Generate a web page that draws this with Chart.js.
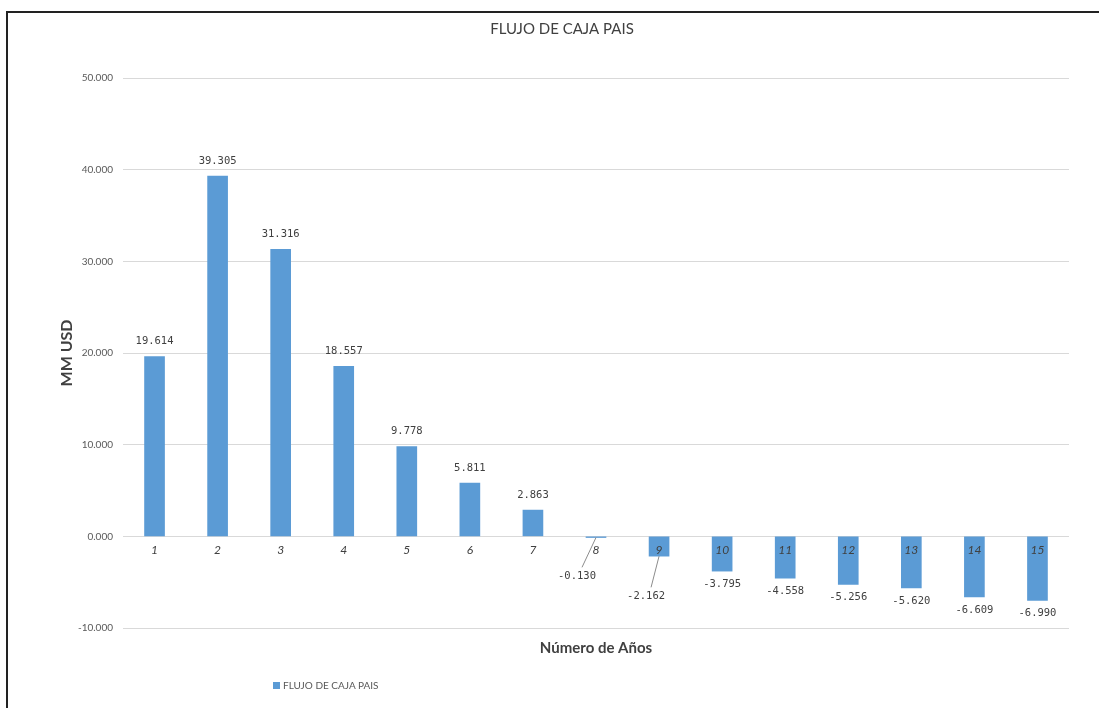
<!DOCTYPE html>
<html>
<head>
<meta charset="utf-8">
<script src="https://cdn.jsdelivr.net/npm/chart.js@4.4.0/dist/chart.umd.min.js"></script>
<style>
  html, body { margin:0; padding:0; background:#fff; overflow:hidden; }
  #wrap { position:relative; width:1099px; height:708px; overflow:hidden; }
  .edge { position:absolute; background:#222; pointer-events:none; }
  #topEdge { left:6px; top:11px; width:1093px; height:2px; }
  #leftEdge { left:6px; top:11px; width:2px; height:697px; }
  #legend { position:absolute; left:273px; top:679px; font:10px 'Liberation Sans Narrow', Lato, sans-serif; color:#595959; }
  #legend span.box { display:inline-block; width:7px; height:7px; background:#5B9BD5; margin-right:3px; }
</style>
</head>
<body>
<div id="wrap">
  <canvas id="flujo" width="1099" height="708"></canvas>
  <div class="edge" id="topEdge"></div>
  <div class="edge" id="leftEdge"></div>
  <div id="legend"><span class="box"></span>FLUJO DE CAJA PAIS</div>
</div>
<script>
// Years and cash flow (MM USD)
const years = ['1','2','3','4','5','6','7','8','9','10','11','12','13','14','15'];
const flujo = [19.614, 39.305, 31.316, 18.557, 9.778, 5.811, 2.863, -0.130, -2.162, -3.795, -4.558, -5.256, -5.620, -6.609, -6.990];
const yMin = -10, yMax = 50, yStep = 10;

const fmt = v => v.toFixed(3);

// value labels above / below bars; the two small ones get a leader line
const valueLabels = {
  id: 'valueLabels',
  afterDatasetsDraw(chart) {
    const ctx = chart.ctx;
    const meta = chart.getDatasetMeta(0);
    const leaders = {7: [-19, 40], 8: [-13, 60]};
    ctx.save();
    ctx.font = '10.5px "DejaVu Sans Mono", monospace';
    ctx.fillStyle = '#404040';
    ctx.textAlign = 'center';
    ctx.textBaseline = 'middle';
    meta.data.forEach((bar, i) => {
      const v = flujo[i];
      let x = bar.x, y;
      if (leaders[i]) {
        const [dx, dy] = leaders[i];
        x = bar.x + dx;
        y = chart.scales.y.getPixelForValue(0) + dy;
        ctx.strokeStyle = '#8c8c8c';
        ctx.lineWidth = 1;
        ctx.beginPath();
        ctx.moveTo(x + 5, y - 9);
        ctx.lineTo(bar.x, bar.y);
        ctx.stroke();
      } else {
        y = v >= 0 ? bar.y - 15 : bar.y + 13;
      }
      ctx.fillText(fmt(v), x, y);
    });
    ctx.restore();
  }
};

const ctx = document.getElementById('flujo').getContext('2d');
const chart = new Chart(ctx, {
  type: 'bar',
  data: {
    labels: years,
    datasets: [{
      label: 'FLUJO DE CAJA PAIS',
      data: flujo,
      backgroundColor: '#5B9BD5',
      barThickness: 20
    }]
  },
  options: {
    responsive: false,
    animation: false,
    layout: { padding: { left: 55, right: 30, top: 20, bottom: 51 } },
    plugins: {
      legend: { display: false },
      tooltip: { enabled: false },
      title: {
        display: true,
        text: 'FLUJO DE CAJA PAIS',
        color: '#404040',
        font: { family: 'Lato, sans-serif', size: 15, weight: 'normal' },
        padding: { top: 0, bottom: 40 }
      }
    },
    scales: {
      x: {
        position: { y: 0 },
        grid: { display: false },
        border: { display: false },
        ticks: { z: 1, color: '#404040', padding: -1, font: { family: 'Lato, sans-serif', size: 12, style: 'italic' } }
      },
      x2: {
        type: 'category',
        position: 'bottom',
        labels: years,
        grid: { display: false },
        border: { display: false },
        ticks: { display: false },
        title: {
          display: true,
          text: 'Número de Años',
          color: '#404040',
          font: { family: 'Lato, sans-serif', size: 15, weight: 'bold' },
          padding: { top: 3, bottom: 0 }
        }
      },
      y: {
        min: yMin,
        max: yMax,
        afterFit: s => { s.width = 68; },
        ticks: {
          stepSize: yStep,
          color: '#595959',
          padding: 10,
          font: { family: 'Lato, sans-serif', size: 10 },
          callback: v => fmt(v)
        },
        grid: { color: '#d9d9d9', drawTicks: false },
        border: { display: false },
        title: {
          display: true,
          text: 'MM USD',
          color: '#404040',
          font: { family: 'Lato, sans-serif', size: 16, weight: 'bold' },
          padding: { top: 2, bottom: 0 }
        }
      }
    }
  },
  plugins: [valueLabels]
});
</script>
</body>
</html>
